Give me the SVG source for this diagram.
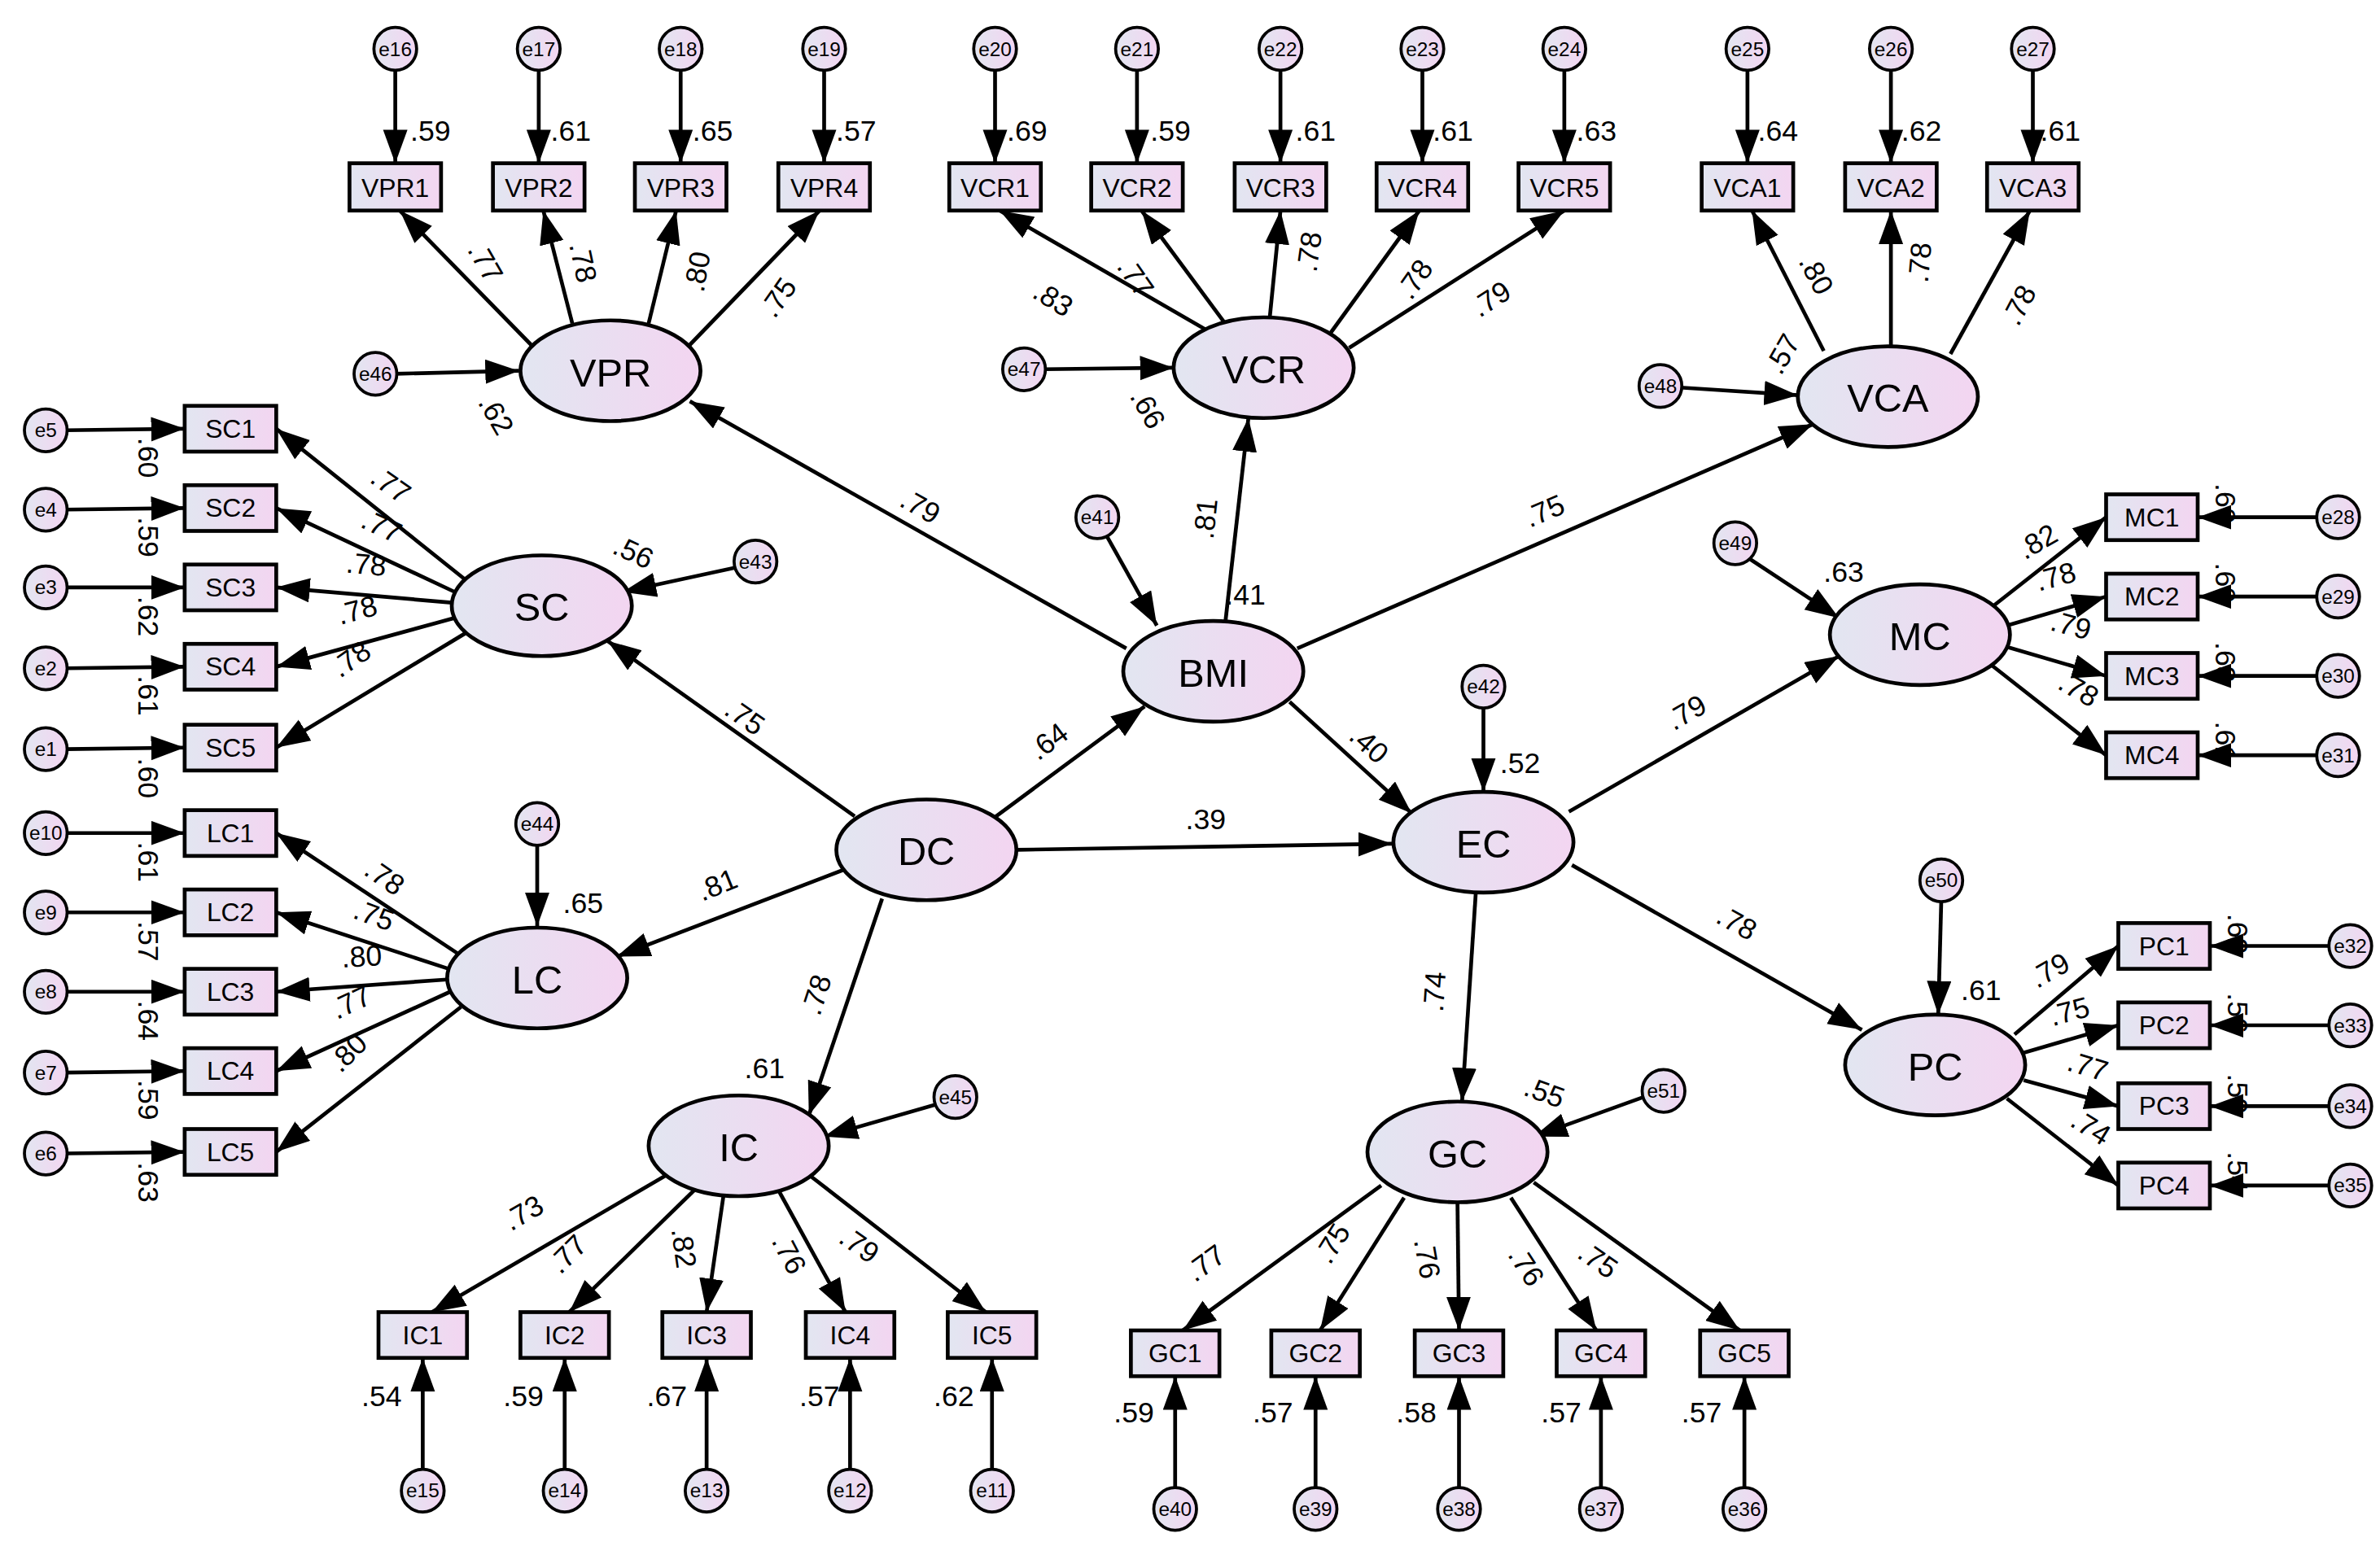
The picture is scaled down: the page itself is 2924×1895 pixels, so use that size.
<svg xmlns="http://www.w3.org/2000/svg" width="2924" height="1895" viewBox="0 0 2924 1895">
<defs>
<linearGradient id="g" x1="0" y1="0" x2="1" y2="0"><stop offset="0" stop-color="#e2e6f1"/><stop offset="1" stop-color="#f3d5f1"/></linearGradient>
<marker id="a" markerUnits="userSpaceOnUse" markerWidth="24" markerHeight="18" refX="22" refY="8" orient="auto"><path d="M0,0 L22,8 L0,16 Z" fill="#000"/></marker>
<style>
.l{fill:url(#g);stroke:#000;stroke-width:2.5}
.b{fill:url(#g);stroke:#000;stroke-width:2.5}
.e{fill:url(#g);stroke:#000;stroke-width:2}
.c line{stroke:#000;stroke-width:2.5;marker-end:url(#a)}
text{font-family:"Liberation Sans",Arial,sans-serif;text-anchor:middle;dominant-baseline:central;fill:#000}
.lt{font-size:26px}
.bt{font-size:17px}
.et{font-size:13px}
.v{font-size:19px}
</style>
</defs>
<rect width="2924" height="1895" fill="#fff"/>
<g transform="scale(1.875)">
<g class="c" id="connectors">
<!-- top errors -->
<line x1="259" y1="45" x2="259" y2="107"/><line x1="353" y1="45" x2="353" y2="107"/><line x1="446" y1="45" x2="446" y2="107"/><line x1="540" y1="45" x2="540" y2="107"/>
<line x1="652" y1="45" x2="652" y2="107"/><line x1="745" y1="45" x2="745" y2="107"/><line x1="839" y1="45" x2="839" y2="107"/><line x1="932" y1="45" x2="932" y2="107"/><line x1="1025" y1="45" x2="1025" y2="107"/>
<line x1="1145" y1="45" x2="1145" y2="107"/><line x1="1239" y1="45" x2="1239" y2="107"/><line x1="1332" y1="45" x2="1332" y2="107"/>
<!-- VPR -->
<line x1="348" y1="226" x2="262" y2="138"/><line x1="375" y1="212" x2="356" y2="138"/><line x1="425" y1="212" x2="443" y2="138"/><line x1="452" y1="226" x2="537" y2="138"/>
<line x1="790" y1="216" x2="655" y2="138"/><line x1="802" y1="211" x2="748" y2="138"/><line x1="832" y1="208" x2="839" y2="138"/><line x1="872" y1="218" x2="930" y2="138"/><line x1="884" y1="228" x2="1025" y2="138"/>
<line x1="1195" y1="230" x2="1148" y2="138"/><line x1="1239" y1="227" x2="1239" y2="138"/><line x1="1278" y1="232" x2="1330" y2="138"/>
<!-- SC -->
<line x1="305" y1="380" x2="181" y2="281"/><line x1="298" y1="388" x2="181" y2="333"/><line x1="296" y1="395" x2="181" y2="385"/><line x1="298" y1="405" x2="181" y2="437"/><line x1="305" y1="415" x2="181" y2="490"/>
<line x1="300" y1="625" x2="181" y2="546"/><line x1="294" y1="635" x2="181" y2="598"/><line x1="293" y1="642" x2="181" y2="650"/><line x1="295" y1="650" x2="181" y2="702"/><line x1="302" y1="660" x2="181" y2="755"/>
<line x1="43" y1="282" x2="121" y2="281"/><line x1="43" y1="334" x2="121" y2="333"/><line x1="43" y1="385" x2="121" y2="385"/><line x1="43" y1="438" x2="121" y2="437"/><line x1="43" y1="491" x2="121" y2="490"/>
<line x1="43" y1="546" x2="121" y2="546"/><line x1="43" y1="598" x2="121" y2="598"/><line x1="43" y1="650" x2="121" y2="650"/><line x1="43" y1="703" x2="121" y2="702"/><line x1="43" y1="756" x2="121" y2="755"/>
<!-- MC PC -->
<line x1="1305" y1="398" x2="1380" y2="339"/><line x1="1315" y1="410" x2="1380" y2="391"/><line x1="1315" y1="424" x2="1380" y2="443"/><line x1="1305" y1="436" x2="1380" y2="495"/>
<line x1="1519" y1="339" x2="1440" y2="339"/><line x1="1519" y1="391" x2="1440" y2="391"/><line x1="1519" y1="443" x2="1440" y2="443"/><line x1="1519" y1="495" x2="1440" y2="495"/>
<line x1="1320" y1="678" x2="1388" y2="620"/><line x1="1326" y1="690" x2="1388" y2="672"/><line x1="1326" y1="708" x2="1388" y2="725"/><line x1="1315" y1="720" x2="1388" y2="777"/>
<line x1="1527" y1="620" x2="1448" y2="620"/><line x1="1527" y1="672" x2="1448" y2="672"/><line x1="1527" y1="725" x2="1448" y2="725"/><line x1="1527" y1="777" x2="1448" y2="777"/>
<!-- IC GC -->
<line x1="437" y1="770" x2="283" y2="860"/><line x1="455" y1="780" x2="373" y2="860"/><line x1="474" y1="784" x2="463" y2="860"/><line x1="510" y1="780" x2="554" y2="860"/><line x1="530" y1="770" x2="646" y2="860"/>
<line x1="277" y1="964" x2="277" y2="890"/><line x1="370" y1="964" x2="370" y2="890"/><line x1="463" y1="964" x2="463" y2="890"/><line x1="557" y1="964" x2="557" y2="890"/><line x1="650" y1="964" x2="650" y2="890"/>
<line x1="905" y1="777" x2="775" y2="872"/><line x1="920" y1="785" x2="865" y2="872"/><line x1="955" y1="788" x2="956" y2="872"/><line x1="990" y1="785" x2="1046" y2="872"/><line x1="1005" y1="775" x2="1140" y2="872"/>
<line x1="770" y1="976" x2="770" y2="902"/><line x1="862" y1="976" x2="862" y2="902"/><line x1="956" y1="976" x2="956" y2="902"/><line x1="1049" y1="976" x2="1049" y2="902"/><line x1="1143" y1="976" x2="1143" y2="902"/>
<!-- structural -->
<line x1="560" y1="535" x2="398" y2="420"/><line x1="553" y1="570" x2="404" y2="627"/><line x1="578" y1="589" x2="530" y2="731"/><line x1="650" y1="537" x2="750" y2="463"/><line x1="666" y1="557" x2="912" y2="553"/>
<line x1="738" y1="425" x2="452" y2="263"/><line x1="803" y1="407" x2="818" y2="274"/><line x1="850" y1="425" x2="1188" y2="278"/><line x1="845" y1="460" x2="925" y2="533"/>
<line x1="1028" y1="532" x2="1205" y2="430"/><line x1="1030" y1="567" x2="1220" y2="675"/><line x1="967" y1="585" x2="958" y2="722"/>
<line x1="259" y1="245" x2="340" y2="243"/><line x1="684" y1="242" x2="769" y2="241"/><line x1="1101" y1="254" x2="1178" y2="259"/><line x1="482" y1="372" x2="408" y2="388"/>
<line x1="725" y1="351" x2="758" y2="410"/><line x1="972" y1="463" x2="972" y2="519"/><line x1="1146" y1="366" x2="1205" y2="405"/><line x1="352" y1="553" x2="352" y2="607"/>
<line x1="613" y1="724" x2="540" y2="745"/><line x1="1272" y1="590" x2="1270" y2="665"/><line x1="1077" y1="719" x2="1005" y2="745"/>
</g>
<g id="latents">
<g id="VPR"><ellipse class="l" cx="400" cy="243" rx="59" ry="33"/><text class="lt" x="400" y="244">VPR</text></g>
<g id="VCR"><ellipse class="l" cx="828" cy="241" rx="59" ry="33"/><text class="lt" x="828" y="242">VCR</text></g>
<g id="VCA"><ellipse class="l" cx="1237" cy="260" rx="59" ry="33"/><text class="lt" x="1237" y="261">VCA</text></g>
<g id="SC"><ellipse class="l" cx="355" cy="397" rx="59" ry="33"/><text class="lt" x="355" y="398">SC</text></g>
<g id="BMI"><ellipse class="l" cx="795" cy="440" rx="59" ry="33"/><text class="lt" x="795" y="441">BMI</text></g>
<g id="MC"><ellipse class="l" cx="1258" cy="416" rx="59" ry="33"/><text class="lt" x="1258" y="417">MC</text></g>
<g id="DC"><ellipse class="l" cx="607" cy="557" rx="59" ry="33"/><text class="lt" x="607" y="558">DC</text></g>
<g id="EC"><ellipse class="l" cx="972" cy="552" rx="59" ry="33"/><text class="lt" x="972" y="553">EC</text></g>
<g id="LC"><ellipse class="l" cx="352" cy="641" rx="59" ry="33"/><text class="lt" x="352" y="642">LC</text></g>
<g id="PC"><ellipse class="l" cx="1268" cy="698" rx="59" ry="33"/><text class="lt" x="1268" y="699">PC</text></g>
<g id="IC"><ellipse class="l" cx="484" cy="751" rx="59" ry="33"/><text class="lt" x="484" y="752">IC</text></g>
<g id="GC"><ellipse class="l" cx="955" cy="755" rx="59" ry="33"/><text class="lt" x="955" y="756">GC</text></g>
</g>
<g id="indicators">
<g id="VPR1"><rect class="b" x="229" y="107" width="60" height="31"/><text class="bt" x="259" y="123">VPR1</text></g>
<g id="VPR2"><rect class="b" x="323" y="107" width="60" height="31"/><text class="bt" x="353" y="123">VPR2</text></g>
<g id="VPR3"><rect class="b" x="416" y="107" width="60" height="31"/><text class="bt" x="446" y="123">VPR3</text></g>
<g id="VPR4"><rect class="b" x="510" y="107" width="60" height="31"/><text class="bt" x="540" y="123">VPR4</text></g>
<g id="VCR1"><rect class="b" x="622" y="107" width="60" height="31"/><text class="bt" x="652" y="123">VCR1</text></g>
<g id="VCR2"><rect class="b" x="715" y="107" width="60" height="31"/><text class="bt" x="745" y="123">VCR2</text></g>
<g id="VCR3"><rect class="b" x="809" y="107" width="60" height="31"/><text class="bt" x="839" y="123">VCR3</text></g>
<g id="VCR4"><rect class="b" x="902" y="107" width="60" height="31"/><text class="bt" x="932" y="123">VCR4</text></g>
<g id="VCR5"><rect class="b" x="995" y="107" width="60" height="31"/><text class="bt" x="1025" y="123">VCR5</text></g>
<g id="VCA1"><rect class="b" x="1115" y="107" width="60" height="31"/><text class="bt" x="1145" y="123">VCA1</text></g>
<g id="VCA2"><rect class="b" x="1209" y="107" width="60" height="31"/><text class="bt" x="1239" y="123">VCA2</text></g>
<g id="VCA3"><rect class="b" x="1302" y="107" width="60" height="31"/><text class="bt" x="1332" y="123">VCA3</text></g>
<g id="SC1"><rect class="b" x="121" y="266" width="60" height="30"/><text class="bt" x="151" y="281">SC1</text></g>
<g id="SC2"><rect class="b" x="121" y="318" width="60" height="30"/><text class="bt" x="151" y="333">SC2</text></g>
<g id="SC3"><rect class="b" x="121" y="370" width="60" height="30"/><text class="bt" x="151" y="385">SC3</text></g>
<g id="SC4"><rect class="b" x="121" y="422" width="60" height="30"/><text class="bt" x="151" y="437">SC4</text></g>
<g id="SC5"><rect class="b" x="121" y="475" width="60" height="30"/><text class="bt" x="151" y="490">SC5</text></g>
<g id="LC1"><rect class="b" x="121" y="531" width="60" height="30"/><text class="bt" x="151" y="546">LC1</text></g>
<g id="LC2"><rect class="b" x="121" y="583" width="60" height="30"/><text class="bt" x="151" y="598">LC2</text></g>
<g id="LC3"><rect class="b" x="121" y="635" width="60" height="30"/><text class="bt" x="151" y="650">LC3</text></g>
<g id="LC4"><rect class="b" x="121" y="687" width="60" height="30"/><text class="bt" x="151" y="702">LC4</text></g>
<g id="LC5"><rect class="b" x="121" y="740" width="60" height="30"/><text class="bt" x="151" y="755">LC5</text></g>
<g id="MC1"><rect class="b" x="1380" y="324" width="60" height="30"/><text class="bt" x="1410" y="339">MC1</text></g>
<g id="MC2"><rect class="b" x="1380" y="376" width="60" height="30"/><text class="bt" x="1410" y="391">MC2</text></g>
<g id="MC3"><rect class="b" x="1380" y="428" width="60" height="30"/><text class="bt" x="1410" y="443">MC3</text></g>
<g id="MC4"><rect class="b" x="1380" y="480" width="60" height="30"/><text class="bt" x="1410" y="495">MC4</text></g>
<g id="PC1"><rect class="b" x="1388" y="605" width="60" height="30"/><text class="bt" x="1418" y="620">PC1</text></g>
<g id="PC2"><rect class="b" x="1388" y="657" width="60" height="30"/><text class="bt" x="1418" y="672">PC2</text></g>
<g id="PC3"><rect class="b" x="1388" y="710" width="60" height="30"/><text class="bt" x="1418" y="725">PC3</text></g>
<g id="PC4"><rect class="b" x="1388" y="762" width="60" height="30"/><text class="bt" x="1418" y="777">PC4</text></g>
<g id="IC1"><rect class="b" x="248" y="860" width="58" height="30"/><text class="bt" x="277" y="875">IC1</text></g>
<g id="IC2"><rect class="b" x="341" y="860" width="58" height="30"/><text class="bt" x="370" y="875">IC2</text></g>
<g id="IC3"><rect class="b" x="434" y="860" width="58" height="30"/><text class="bt" x="463" y="875">IC3</text></g>
<g id="IC4"><rect class="b" x="528" y="860" width="58" height="30"/><text class="bt" x="557" y="875">IC4</text></g>
<g id="IC5"><rect class="b" x="621" y="860" width="58" height="30"/><text class="bt" x="650" y="875">IC5</text></g>
<g id="GC1"><rect class="b" x="741" y="872" width="58" height="30"/><text class="bt" x="770" y="887">GC1</text></g>
<g id="GC2"><rect class="b" x="833" y="872" width="58" height="30"/><text class="bt" x="862" y="887">GC2</text></g>
<g id="GC3"><rect class="b" x="927" y="872" width="58" height="30"/><text class="bt" x="956" y="887">GC3</text></g>
<g id="GC4"><rect class="b" x="1020" y="872" width="58" height="30"/><text class="bt" x="1049" y="887">GC4</text></g>
<g id="GC5"><rect class="b" x="1114" y="872" width="58" height="30"/><text class="bt" x="1143" y="887">GC5</text></g>
</g>
<g id="errors">
<g id="e16"><circle class="e" cx="259" cy="32" r="14"/><text class="et" x="259" y="32">e16</text></g>
<g id="e17"><circle class="e" cx="353" cy="32" r="14"/><text class="et" x="353" y="32">e17</text></g>
<g id="e18"><circle class="e" cx="446" cy="32" r="14"/><text class="et" x="446" y="32">e18</text></g>
<g id="e19"><circle class="e" cx="540" cy="32" r="14"/><text class="et" x="540" y="32">e19</text></g>
<g id="e20"><circle class="e" cx="652" cy="32" r="14"/><text class="et" x="652" y="32">e20</text></g>
<g id="e21"><circle class="e" cx="745" cy="32" r="14"/><text class="et" x="745" y="32">e21</text></g>
<g id="e22"><circle class="e" cx="839" cy="32" r="14"/><text class="et" x="839" y="32">e22</text></g>
<g id="e23"><circle class="e" cx="932" cy="32" r="14"/><text class="et" x="932" y="32">e23</text></g>
<g id="e24"><circle class="e" cx="1025" cy="32" r="14"/><text class="et" x="1025" y="32">e24</text></g>
<g id="e25"><circle class="e" cx="1145" cy="32" r="14"/><text class="et" x="1145" y="32">e25</text></g>
<g id="e26"><circle class="e" cx="1239" cy="32" r="14"/><text class="et" x="1239" y="32">e26</text></g>
<g id="e27"><circle class="e" cx="1332" cy="32" r="14"/><text class="et" x="1332" y="32">e27</text></g>
<g id="e5"><circle class="e" cx="30" cy="282" r="14"/><text class="et" x="30" y="282">e5</text></g>
<g id="e4"><circle class="e" cx="30" cy="334" r="14"/><text class="et" x="30" y="334">e4</text></g>
<g id="e3"><circle class="e" cx="30" cy="385" r="14"/><text class="et" x="30" y="385">e3</text></g>
<g id="e2"><circle class="e" cx="30" cy="438" r="14"/><text class="et" x="30" y="438">e2</text></g>
<g id="e1"><circle class="e" cx="30" cy="491" r="14"/><text class="et" x="30" y="491">e1</text></g>
<g id="e10"><circle class="e" cx="30" cy="546" r="14"/><text class="et" x="30" y="546">e10</text></g>
<g id="e9"><circle class="e" cx="30" cy="598" r="14"/><text class="et" x="30" y="598">e9</text></g>
<g id="e8"><circle class="e" cx="30" cy="650" r="14"/><text class="et" x="30" y="650">e8</text></g>
<g id="e7"><circle class="e" cx="30" cy="703" r="14"/><text class="et" x="30" y="703">e7</text></g>
<g id="e6"><circle class="e" cx="30" cy="756" r="14"/><text class="et" x="30" y="756">e6</text></g>
<g id="e28"><circle class="e" cx="1532" cy="339" r="14"/><text class="et" x="1532" y="339">e28</text></g>
<g id="e29"><circle class="e" cx="1532" cy="391" r="14"/><text class="et" x="1532" y="391">e29</text></g>
<g id="e30"><circle class="e" cx="1532" cy="443" r="14"/><text class="et" x="1532" y="443">e30</text></g>
<g id="e31"><circle class="e" cx="1532" cy="495" r="14"/><text class="et" x="1532" y="495">e31</text></g>
<g id="e32"><circle class="e" cx="1540" cy="620" r="14"/><text class="et" x="1540" y="620">e32</text></g>
<g id="e33"><circle class="e" cx="1540" cy="672" r="14"/><text class="et" x="1540" y="672">e33</text></g>
<g id="e34"><circle class="e" cx="1540" cy="725" r="14"/><text class="et" x="1540" y="725">e34</text></g>
<g id="e35"><circle class="e" cx="1540" cy="777" r="14"/><text class="et" x="1540" y="777">e35</text></g>
<g id="e15"><circle class="e" cx="277" cy="977" r="14"/><text class="et" x="277" y="977">e15</text></g>
<g id="e14"><circle class="e" cx="370" cy="977" r="14"/><text class="et" x="370" y="977">e14</text></g>
<g id="e13"><circle class="e" cx="463" cy="977" r="14"/><text class="et" x="463" y="977">e13</text></g>
<g id="e12"><circle class="e" cx="557" cy="977" r="14"/><text class="et" x="557" y="977">e12</text></g>
<g id="e11"><circle class="e" cx="650" cy="977" r="14"/><text class="et" x="650" y="977">e11</text></g>
<g id="e40"><circle class="e" cx="770" cy="989" r="14"/><text class="et" x="770" y="989">e40</text></g>
<g id="e39"><circle class="e" cx="862" cy="989" r="14"/><text class="et" x="862" y="989">e39</text></g>
<g id="e38"><circle class="e" cx="956" cy="989" r="14"/><text class="et" x="956" y="989">e38</text></g>
<g id="e37"><circle class="e" cx="1049" cy="989" r="14"/><text class="et" x="1049" y="989">e37</text></g>
<g id="e36"><circle class="e" cx="1143" cy="989" r="14"/><text class="et" x="1143" y="989">e36</text></g>
<g id="e46"><circle class="e" cx="246" cy="245" r="14"/><text class="et" x="246" y="245">e46</text></g>
<g id="e47"><circle class="e" cx="671" cy="242" r="14"/><text class="et" x="671" y="242">e47</text></g>
<g id="e48"><circle class="e" cx="1088" cy="253" r="14"/><text class="et" x="1088" y="253">e48</text></g>
<g id="e43"><circle class="e" cx="495" cy="368" r="14"/><text class="et" x="495" y="368">e43</text></g>
<g id="e41"><circle class="e" cx="719" cy="339" r="14"/><text class="et" x="719" y="339">e41</text></g>
<g id="e42"><circle class="e" cx="972" cy="450" r="14"/><text class="et" x="972" y="450">e42</text></g>
<g id="e49"><circle class="e" cx="1137" cy="356" r="14"/><text class="et" x="1137" y="356">e49</text></g>
<g id="e44"><circle class="e" cx="352" cy="540" r="14"/><text class="et" x="352" y="540">e44</text></g>
<g id="e45"><circle class="e" cx="626" cy="719" r="14"/><text class="et" x="626" y="719">e45</text></g>
<g id="e50"><circle class="e" cx="1272" cy="577" r="14"/><text class="et" x="1272" y="577">e50</text></g>
<g id="e51"><circle class="e" cx="1090" cy="715" r="14"/><text class="et" x="1090" y="715">e51</text></g>
</g>
<g id="labels" class="v">
<text class="v" x="282" y="86">.59</text><text class="v" x="374" y="86">.61</text><text class="v" x="467" y="86">.65</text><text class="v" x="561" y="86">.57</text>
<text class="v" x="673" y="86">.69</text><text class="v" x="767" y="86">.59</text><text class="v" x="862" y="86">.61</text><text class="v" x="952" y="86">.61</text><text class="v" x="1046" y="86">.63</text>
<text class="v" x="1165" y="86">.64</text><text class="v" x="1259" y="86">.62</text><text class="v" x="1350" y="86">.61</text>
<text class="v" x="318" y="172" transform="rotate(60 318 172)">.77</text>
<text class="v" x="382" y="172" transform="rotate(78 382 172)">.78</text>
<text class="v" x="457" y="178" transform="rotate(-80 457 178)">.80</text>
<text class="v" x="510" y="195" transform="rotate(-55 510 195)">.75</text>
<text class="v" x="690" y="196" transform="rotate(32 690 196)">.83</text>
<text class="v" x="744" y="182" transform="rotate(55 744 182)">.77</text>
<text class="v" x="858" y="165" transform="rotate(-82 858 165)">.78</text>
<text class="v" x="927" y="183" transform="rotate(-55 927 183)">.78</text>
<text class="v" x="977" y="196" transform="rotate(-33 977 196)">.79</text>
<text class="v" x="1190" y="180" transform="rotate(62 1190 180)">.80</text>
<text class="v" x="1258" y="172" transform="rotate(-85 1258 172)">.78</text>
<text class="v" x="1323" y="200" transform="rotate(-62 1323 200)">.78</text>
<text class="v" x="325" y="272" transform="rotate(60 325 272)">.62</text>
<text class="v" x="752" y="268" transform="rotate(60 752 268)">.66</text>
<text class="v" x="1168" y="232" transform="rotate(-60 1168 232)">.57</text>
<text class="v" x="256" y="318" transform="rotate(35 256 318)">.77</text>
<text class="v" x="250" y="345" transform="rotate(25 250 345)">.77</text>
<text class="v" x="240" y="370" transform="rotate(5 240 370)">.78</text>
<text class="v" x="234" y="400" transform="rotate(-15 234 400)">.78</text>
<text class="v" x="230" y="432" transform="rotate(-35 230 432)">.78</text>
<text class="v" x="415" y="362" transform="rotate(25 415 362)">.56</text>
<text class="v" x="97" y="300" transform="rotate(90 97 300)">.60</text>
<text class="v" x="97" y="352" transform="rotate(90 97 352)">.59</text>
<text class="v" x="97" y="404" transform="rotate(90 97 404)">.62</text>
<text class="v" x="97" y="456" transform="rotate(90 97 456)">.61</text>
<text class="v" x="97" y="510" transform="rotate(90 97 510)">.60</text>
<text class="v" x="252" y="575" transform="rotate(35 252 575)">.78</text>
<text class="v" x="245" y="600" transform="rotate(20 245 600)">.75</text>
<text class="v" x="237" y="627" transform="rotate(-3 237 627)">.80</text>
<text class="v" x="230" y="657" transform="rotate(-25 230 657)">.77</text>
<text class="v" x="228" y="690" transform="rotate(-45 228 690)">.80</text>
<text class="v" x="382" y="592">.65</text>
<text class="v" x="97" y="565" transform="rotate(90 97 565)">.61</text>
<text class="v" x="97" y="617" transform="rotate(90 97 617)">.57</text>
<text class="v" x="97" y="669" transform="rotate(90 97 669)">.64</text>
<text class="v" x="97" y="721" transform="rotate(90 97 721)">.59</text>
<text class="v" x="97" y="775" transform="rotate(90 97 775)">.63</text>
<text class="v" x="488" y="470" transform="rotate(35 488 470)">.75</text>
<text class="v" x="470" y="580" transform="rotate(-22 470 580)">.81</text>
<text class="v" x="535" y="652" transform="rotate(-72 535 652)">.78</text>
<text class="v" x="501" y="700">.61</text>
<text class="v" x="687" y="486" transform="rotate(-37 687 486)">.64</text>
<text class="v" x="790" y="537">.39</text>
<text class="v" x="603" y="332" transform="rotate(29 603 332)">.79</text>
<text class="v" x="790" y="340" transform="rotate(-84 790 340)">.81</text>
<text class="v" x="1012" y="335" transform="rotate(-23 1012 335)">.75</text>
<text class="v" x="816" y="390">.41</text>
<text class="v" x="897" y="488" transform="rotate(42 897 488)">.40</text>
<text class="v" x="996" y="500">.52</text>
<text class="v" x="1105" y="467" transform="rotate(-30 1105 467)">.79</text>
<text class="v" x="1208" y="375">.63</text>
<text class="v" x="1138" y="605" transform="rotate(29 1138 605)">.78</text>
<text class="v" x="940" y="650" transform="rotate(-86 940 650)">.74</text>
<text class="v" x="1012" y="716" transform="rotate(20 1012 716)">.55</text>
<text class="v" x="1298" y="649">.61</text>
<text class="v" x="343" y="795" transform="rotate(-30 343 795)">.73</text>
<text class="v" x="372" y="822" transform="rotate(-45 372 822)">.77</text>
<text class="v" x="448" y="818" transform="rotate(82 448 818)">.82</text>
<text class="v" x="517" y="822" transform="rotate(62 517 822)">.76</text>
<text class="v" x="563" y="816" transform="rotate(35 563 816)">.79</text>
<text class="v" x="250" y="915">.54</text><text class="v" x="343" y="915">.59</text><text class="v" x="437" y="915">.67</text><text class="v" x="537" y="915">.57</text><text class="v" x="625" y="915">.62</text>
<text class="v" x="790" y="828" transform="rotate(-36 790 828)">.77</text>
<text class="v" x="873" y="815" transform="rotate(-58 873 815)">.75</text>
<text class="v" x="935" y="825" transform="rotate(80 935 825)">.76</text>
<text class="v" x="1000" y="830" transform="rotate(57 1000 830)">.76</text>
<text class="v" x="1047" y="826" transform="rotate(35 1047 826)">.75</text>
<text class="v" x="743" y="926">.59</text><text class="v" x="834" y="926">.57</text><text class="v" x="928" y="926">.58</text><text class="v" x="1023" y="926">.57</text><text class="v" x="1115" y="926">.57</text>
<text class="v" x="1335" y="355" transform="rotate(-30 1335 355)">.82</text>
<text class="v" x="1347" y="378" transform="rotate(-15 1347 378)">.78</text>
<text class="v" x="1357" y="410" transform="rotate(15 1357 410)">.79</text>
<text class="v" x="1362" y="452" transform="rotate(30 1362 452)">.78</text>
<text class="v" x="1458" y="330" transform="rotate(90 1458 330)">.60</text>
<text class="v" x="1458" y="382" transform="rotate(90 1458 382)">.60</text>
<text class="v" x="1458" y="434" transform="rotate(90 1458 434)">.63</text>
<text class="v" x="1458" y="486" transform="rotate(90 1458 486)">.61</text>
<text class="v" x="1343" y="636" transform="rotate(-30 1343 636)">.79</text>
<text class="v" x="1356" y="663" transform="rotate(-15 1356 663)">.75</text>
<text class="v" x="1368" y="699" transform="rotate(17 1368 699)">.77</text>
<text class="v" x="1370" y="739" transform="rotate(32 1370 739)">.74</text>
<text class="v" x="1466" y="612" transform="rotate(90 1466 612)">.62</text>
<text class="v" x="1466" y="664" transform="rotate(90 1466 664)">.56</text>
<text class="v" x="1466" y="717" transform="rotate(90 1466 717)">.59</text>
<text class="v" x="1466" y="768" transform="rotate(90 1466 768)">.54</text>
</g>
</g>
</svg>
